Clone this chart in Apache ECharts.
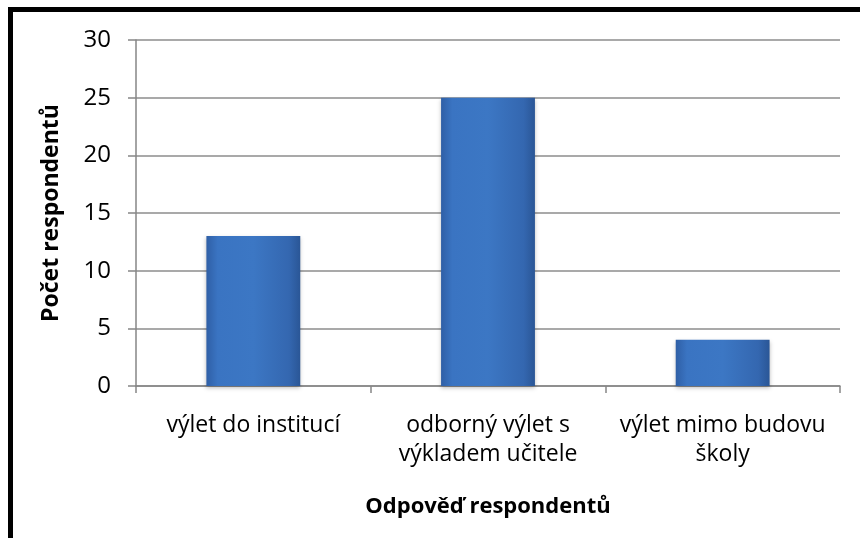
<!DOCTYPE html>
<html>
<head>
<meta charset="utf-8">
<script src="https://cdn.jsdelivr.net/npm/echarts@6/dist/echarts.min.js"></script>
<style>
  html, body { margin: 0; padding: 0; background: #fff; overflow: hidden; }
  #frame { position: absolute; left: 8px; top: 7px; width: 900px; height: 600px;
           border-top: 5px solid #000; border-left: 5px solid #000; }
  #chart { position: absolute; left: 0; top: 0; width: 860px; height: 538px; }
</style>
</head>
<body>
<div id="frame"></div>
<div id="chart"></div>
<script>
const categories = ['výlet do institucí', 'odborný výlet s\nvýkladem učitele', 'výlet mimo budovu\nškoly']
const values = [13, 25, 4]
const yTicks = { min: 0, max: 30, interval: 5 }
const yName = 'Počet respondentů'
const xName = 'Odpověď respondentů'

const font = '"Open Sans", "Noto Sans", sans-serif'
const chart = echarts.init(document.getElementById('chart'))

chart.setOption({
  animation: false,
  grid: { left: 136, right: 20, top: 40, bottom: 152, containLabel: false },
  xAxis: {
    type: 'category',
    data: categories,
    name: xName,
    nameLocation: 'middle',
    nameGap: 110,
    nameTextStyle: { fontFamily: font, fontSize: 22, fontWeight: 'bold', color: '#000' },
    axisLine: { lineStyle: { color: '#868686', width: 1.5 } },
    axisTick: { show: true, length: 7, alignWithLabel: false, lineStyle: { color: '#868686', width: 1.5 } },
    axisLabel: { fontFamily: font, fontSize: 23, color: '#000', margin: 25, lineHeight: 29, interval: 0 }
  },
  yAxis: {
    type: 'value',
    min: yTicks.min,
    max: yTicks.max,
    interval: yTicks.interval,
    name: yName,
    nameLocation: 'middle',
    nameGap: 73,
    nameRotate: 90,
    nameTextStyle: { fontFamily: font, fontSize: 23, fontWeight: 'bold', color: '#000' },
    axisLine: { show: true, lineStyle: { color: '#868686', width: 1.5 } },
    axisTick: { show: true, length: 8, lineStyle: { color: '#868686', width: 1.5 } },
    axisLabel: { fontFamily: font, fontSize: 24, color: '#000', margin: 25 },
    splitLine: { show: true, lineStyle: { color: '#8c8c8c', width: 1.5 } }
  },
  series: [{
    type: 'bar',
    data: values,
    barWidth: '40%',
    itemStyle: {
      color: new echarts.graphic.LinearGradient(0, 0, 1, 0, [
        { offset: 0, color: '#2f5fa6' },
        { offset: 0.12, color: '#3a74c2' },
        { offset: 0.5, color: '#3c77c4' },
        { offset: 0.88, color: '#3467b0' },
        { offset: 1, color: '#2a5696' }
      ]),
      borderWidth: 0,
      shadowColor: 'rgba(0,0,0,0.25)',
      shadowBlur: 4,
      shadowOffsetY: 2
    }
  }]
})
</script>
</body>
</html>
